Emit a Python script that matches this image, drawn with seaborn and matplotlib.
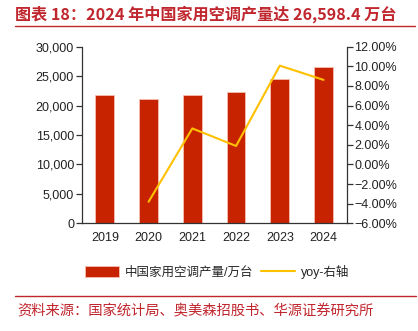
import matplotlib
matplotlib.use("Agg")
import matplotlib.pyplot as plt
import matplotlib.ticker as mticker
import seaborn as sns
import numpy as np
import pandas as pd

years = ["2019", "2020", "2021", "2022", "2023", "2024"]
production = [21866, 21064, 21836, 22247, 24487, 26598.4]
yoy_years = ["2020", "2021", "2022", "2023", "2024"]
yoy = [-3.8, 3.67, 1.88, 10.07, 8.62]

title = "图表 18：2024 年中国家用空调产量达 26,598.4 万台"
source = "资料来源：国家统计局、奥美森招股书、华源证券研究所"
bar_label = "中国家用空调产量/万台"
line_label = "yoy-右轴"

sns.set_theme(style="white")
plt.rcParams["font.family"] = ["Liberation Sans", "Noto Sans CJK SC", "DejaVu Sans"]
plt.rcParams["axes.unicode_minus"] = True

BAR_C = "#C82300"
LINE_C = "#FFC000"
RED = "#C0262D"

fig = plt.figure(figsize=(4.18, 3.31), dpi=100)
W, H = 418, 331
ax = fig.add_axes([81.7 / W, (H - 223.3) / H, 265 / W, 176.6 / H])

df = pd.DataFrame({"year": years, "prod": production})
sns.barplot(data=df, x="year", y="prod", ax=ax, color=BAR_C, width=0.43,
            saturation=1, edgecolor="#F4C0B0", linewidth=0.6, label=bar_label)
ax.set_xlim(-0.53, len(years) - 0.47)
ax.set_ylim(0, 30000)
ax.yaxis.set_major_locator(mticker.MultipleLocator(5000))
ax.yaxis.set_major_formatter(mticker.FuncFormatter(lambda v, p: f"{int(v):,}"))
ax.set_xlabel("")
ax.set_ylabel("")
if ax.get_legend() is not None:
    ax.get_legend().remove()

ax2 = ax.twinx()
pos = [years.index(y) for y in yoy_years]
ldf = pd.DataFrame({"pos": pos, "yoy": yoy})
sns.lineplot(data=ldf, x="pos", y="yoy", ax=ax2, color=LINE_C, linewidth=1.5,
             label=line_label, legend=False)
ax2.set_ylim(-6, 12)
ax2.yaxis.set_major_locator(mticker.MultipleLocator(2))
ax2.yaxis.set_major_formatter(mticker.FuncFormatter(lambda v, p: f"{v:.2f}%".replace("-", "\u2212")))
ax2.set_xlim(-0.53, len(years) - 0.47)
ax2.set_xlabel("")
ax2.set_ylabel("")
if ax2.get_legend() is not None:
    ax2.get_legend().remove()

for a in (ax, ax2):
    for s in a.spines.values():
        s.set_color("#333333")
        s.set_linewidth(0.9)
    a.spines["top"].set_visible(False)
    a.grid(False)

ax.spines["right"].set_visible(False)
ax2.spines["left"].set_visible(False)
ax2.spines["bottom"].set_visible(False)

ax.tick_params(axis="y", direction="out", length=4, width=0.9, color="#333333",
               labelsize=9, pad=1.5, labelcolor="#222222")
ax2.tick_params(axis="y", direction="out", length=4, width=0.9, color="#333333",
                labelsize=9, pad=1.5, labelcolor="#222222")
ax.set_xticks(range(len(years)))
ax.set_xticklabels(years)
ax.set_xticks(np.arange(-0.5, len(years), 1.0), minor=True)
ax.tick_params(axis="x", which="major", length=0, labelsize=9, pad=6, labelcolor="#222222")
ax.tick_params(axis="x", which="minor", direction="out", length=4, width=0.9, color="#333333")

# legend
h1, l1 = ax.get_legend_handles_labels()
h2, l2 = ax2.get_legend_handles_labels()
fig.legend(h1 + h2, l1 + l2, loc="center", bbox_to_anchor=(217 / W, 1 - 271.7 / H),
           ncol=2, frameon=False, fontsize=9, handlelength=2.7, handleheight=0.9,
           columnspacing=0.6, handletextpad=0.5)

# title and source
fig.text(15 / W, 1 - 14 / H, title, color=RED, fontsize=11.6, fontweight="bold",
         family=["Noto Sans CJK SC"], va="center", ha="left")
fig.add_artist(plt.Line2D([15 / W, 415 / W], [1 - 26 / H, 1 - 26 / H], color=RED, linewidth=1.0))
fig.add_artist(plt.Line2D([15 / W, 416 / W], [1 - 296 / H, 1 - 296 / H], color=RED, linewidth=1.0))
fig.text(17 / W, 1 - 311.5 / H, source, color=RED, fontsize=10.3,
         family=["Noto Sans CJK SC"], va="center", ha="left")

fig.savefig("out.png", dpi=100)
